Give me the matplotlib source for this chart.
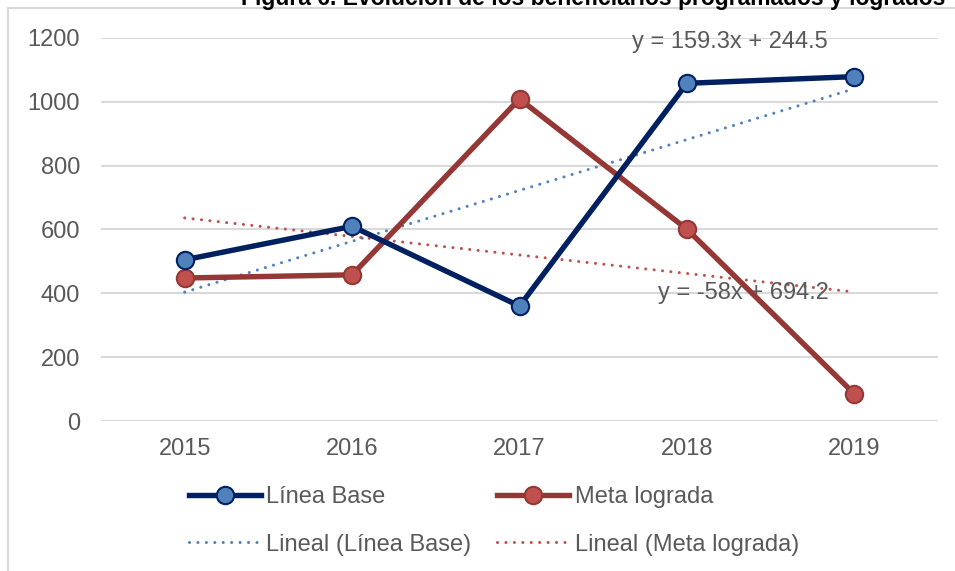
import matplotlib
matplotlib.use("Agg")
import matplotlib.pyplot as plt
from matplotlib.patches import Rectangle
import numpy as np

plt.rcParams['font.family'] = ['Liberation Sans', 'DejaVu Sans']

years = ["2015", "2016", "2017", "2018", "2019"]
linea_base = [505, 610, 360, 1058, 1079]
meta_lograda = [448, 458, 1009, 601, 85]
trend_base = (159.3, 244.5)     # slope, intercept
trend_meta = (-58.0, 694.2)
eq_base = "y = 159.3x + 244.5"
eq_meta = "y = -58x + 694.2"
yticks = [0, 200, 400, 600, 800, 1000, 1200]
title = "Figura 6. Evolución de los beneficiarios programados y logrados"

W, H = 955, 571
fig = plt.figure(figsize=(W / 100, H / 100), dpi=100)
ax = fig.add_axes([101 / W, 1 - 421 / H, (938 - 101) / W, (421 - 38) / H])

x = np.arange(1, len(years) + 1)
text_color = "#595959"
fs = 17

# trendlines
dot = (0, (0.01, 2.75))
xt = np.array([x[0], x[-1]])
ax.plot(xt, trend_base[0] * xt + trend_base[1], color="#4f81bd", lw=2.2,
        linestyle=dot, dash_capstyle="round", zorder=3,
        label="Lineal (Línea Base)")
ax.plot(xt, trend_meta[0] * xt + trend_meta[1], color="#c0504d", lw=2.2,
        linestyle=dot, dash_capstyle="round", zorder=3,
        label="Lineal (Meta lograda)")

ax.plot(x, linea_base, color="#002060", lw=3.9, marker="o", ms=12.5,
        mfc="#4f81bd", mec="#002060", mew=1.5, zorder=5, label="Línea Base",
        solid_joinstyle="round")
ax.plot(x, meta_lograda, color="#953735", lw=3.9, marker="o", ms=12.5,
        mfc="#c0504d", mec="#953735", mew=1.5, zorder=4, label="Meta lograda",
        solid_joinstyle="round")

ax.set_xlim(0.5, len(years) + 0.5)
ax.set_ylim(0, 1200)
ax.set_xticks(x)
ax.set_xticklabels(years)
ax.set_yticks(yticks)
ax.set_yticklabels([str(v) for v in yticks])
ax.tick_params(axis="both", length=0, labelsize=fs, colors=text_color)
ax.tick_params(axis="y", pad=15)
ax.tick_params(axis="x", pad=12)
ax.grid(axis="y", color="#d9d9d9", lw=1.5, zorder=0)
for s in ax.spines.values():
    s.set_visible(False)

# equation labels
ax.text(3.67, 1186, eq_base, fontsize=fs, color=text_color, va="center", ha="left")
ax.text(3.83, 400, eq_meta, fontsize=fs, color=text_color, va="center", ha="left")

# legend (column-wise fill: col1 = Línea Base / Lineal base, col2 = Meta / Lineal meta)
h, l = ax.get_legend_handles_labels()
order = [2, 0, 3, 1]
leg = fig.legend([h[i] for i in order], [l[i] for i in order], ncol=2,
                 loc="center", bbox_to_anchor=(494 / W, 1 - 521 / H),
                 frameon=False, fontsize=fs, handlelength=3.05,
                 handletextpad=0.22, columnspacing=1.1, labelspacing=1.08,
                 borderpad=0)
for t in leg.get_texts():
    t.set_color(text_color)

# chart border
fig.patches.append(Rectangle((8 / W, -0.1), 1.2, 1 - 8 / H + 0.1,
                             transform=fig.transFigure, fill=False,
                             edgecolor="#d9d9d9", lw=1.5))

fig.text(593 / W, 1 - 5 / H, title, fontsize=16.5, fontweight="bold",
         ha="center", va="baseline", color="black")

fig.savefig("out.png", dpi=100)
